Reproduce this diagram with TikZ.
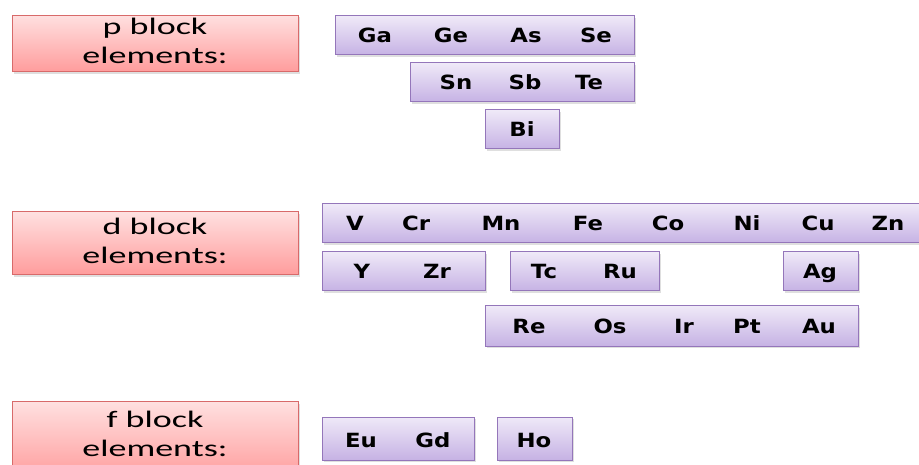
\documentclass[tikz,border=0pt]{standalone}
\usepackage{fontspec}
\usepackage{graphicx}
\usetikzlibrary{shadows}
\newfontfamily\redfont{Carlito}
\newfontfamily\elfont{DejaVu Sans}
\newcommand{\redtext}[2]{\scalebox{1.6}[1.05]{\redfont\fontsize{22.5}{27}\selectfont\begin{tabular}{@{}c@{}}#1\\[0pt]#2\end{tabular}}}
\newcommand{\eltext}[1]{\scalebox{1.2}[1.03]{\elfont\bfseries\fontsize{19}{19}\selectfont #1}}
\definecolor{redtop}{HTML}{FFE0E0}
\definecolor{redbot}{HTML}{FF9C9C}
\definecolor{redline}{HTML}{D86A6A}
\definecolor{purtop}{HTML}{EFE9F8}
\definecolor{purbot}{HTML}{C6B2E4}
\definecolor{purline}{HTML}{9476BA}
\begin{document}
\begin{tikzpicture}[x=1pt,y=-1pt,
  redbox/.style={draw=redline, line width=1pt, top color=redtop, bottom color=redbot,
    drop shadow={shadow xshift=1.5pt, shadow yshift=-2pt, opacity=0.25},
    inner sep=0pt, text=black},
  purbox/.style={draw=purline, line width=1pt, top color=purtop, bottom color=purbot,
    drop shadow={shadow xshift=1.5pt, shadow yshift=-2pt, opacity=0.25},
    inner sep=0pt},
  el/.style={text=black, inner sep=0pt, anchor=base}]
\useasboundingbox (0,0) rectangle (919,465);
% red label boxes
\node[redbox, minimum width=286pt, minimum height=55pt] (pl) at (155,43.5) {\redtext{p block}{elements:}};
\node[redbox, minimum width=286pt, minimum height=63pt] (dl) at (155,243.5) {\redtext{d block}{elements:}};
\node[redbox, minimum width=286pt, minimum height=78pt, anchor=north] (fl) at (155,401) {};
\node[inner sep=0pt] (ft) at (155,436.5) {\redtext{f block}{elements:}};
% purple boxes
\node[purbox, minimum width=299pt, minimum height=39pt] (b1) at (484.5,35.5) {};
\node[purbox, minimum width=224pt, minimum height=39pt] (b2) at (522,82.5) {};
\node[purbox, minimum width=74pt, minimum height=39pt] (b3) at (522,129.5) {};
\node[purbox, minimum width=603pt, minimum height=39pt] (b4) at (623.5,223.5) {};
\node[purbox, minimum width=163pt, minimum height=39pt] (b5) at (403.5,271.5) {};
\node[purbox, minimum width=149pt, minimum height=39pt] (b6) at (584.5,271.5) {};
\node[purbox, minimum width=75pt, minimum height=39pt] (b7) at (820.5,271.5) {};
\node[purbox, minimum width=373pt, minimum height=40pt] (b8) at (671.5,326) {};
\node[purbox, minimum width=152pt, minimum height=43pt] (b9) at (398,438.5) {};
\node[purbox, minimum width=75pt, minimum height=43pt] (b10) at (534.5,438.5) {};
% elements
\node[el] (Ga) at (375,43) {\eltext{Ga}};
\node[el] (Ge) at (451,43) {\eltext{Ge}};
\node[el] (As) at (526,43) {\eltext{As}};
\node[el] (Se) at (596,43) {\eltext{Se}};
\node[el] (Sn) at (456,90) {\eltext{Sn}};
\node[el] (Sb) at (525,90) {\eltext{Sb}};
\node[el] (Te) at (589,90) {\eltext{Te}};
\node[el] (Bi) at (522,137) {\eltext{Bi}};
\node[el] (V) at (355,231) {\eltext{V}};
\node[el] (Cr) at (416,231) {\eltext{Cr}};
\node[el] (Mn) at (501,231) {\eltext{Mn}};
\node[el] (Fe) at (588,231) {\eltext{Fe}};
\node[el] (Co) at (668,231) {\eltext{Co}};
\node[el] (Ni) at (747,231) {\eltext{Ni}};
\node[el] (Cu) at (818,231) {\eltext{Cu}};
\node[el] (Zn) at (888,231) {\eltext{Zn}};
\node[el] (Y) at (362,279) {\eltext{Y}};
\node[el] (Zr) at (437,279) {\eltext{Zr}};
\node[el] (Tc) at (544,279) {\eltext{Tc}};
\node[el] (Ru) at (620,279) {\eltext{Ru}};
\node[el] (Ag) at (820,279) {\eltext{Ag}};
\node[el] (Re) at (529,334) {\eltext{Re}};
\node[el] (Os) at (610,334) {\eltext{Os}};
\node[el] (Ir) at (684,334) {\eltext{Ir}};
\node[el] (Pt) at (747,334) {\eltext{Pt}};
\node[el] (Au) at (819,334) {\eltext{Au}};
\node[el] (Eu) at (361,447) {\eltext{Eu}};
\node[el] (Gd) at (433,447) {\eltext{Gd}};
\node[el] (Ho) at (534,447) {\eltext{Ho}};
\end{tikzpicture}
\end{document}
